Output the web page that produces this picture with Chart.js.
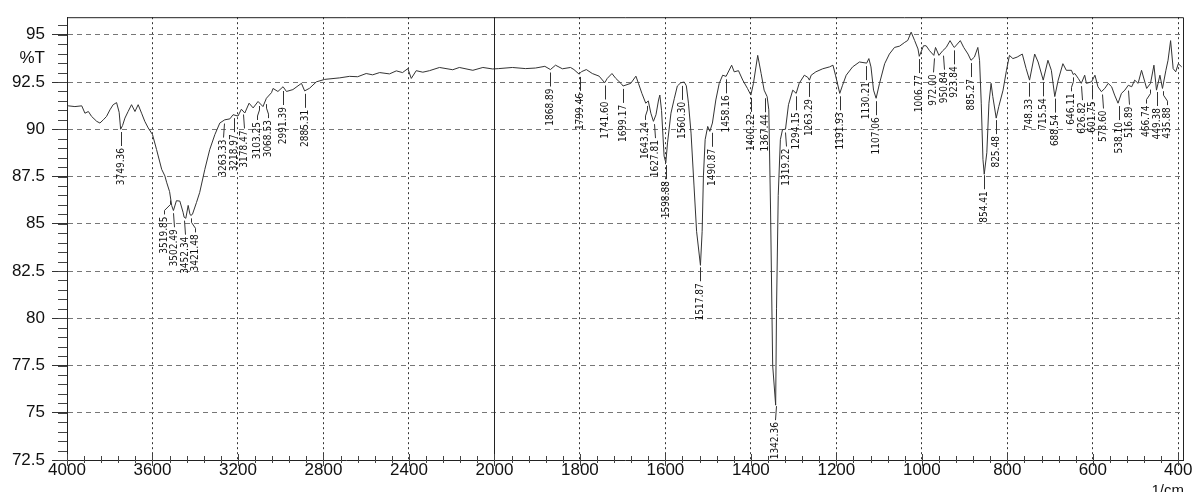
<!DOCTYPE html>
<html lang="en">
<head>
<meta charset="UTF-8">
<title>IR Spectrum</title>
<script src="https://cdn.jsdelivr.net/npm/chart.js"></script>
<style>
    body, html {
        margin: 0;
        padding: 0;
        background: #fff;
        overflow: hidden;
    }
    canvas { display: block; }
</style>
</head>
<body>
<canvas id="irChart" width="1195" height="492"></canvas>
<script>
// wavenumber (1/cm) and %T
const wavenumbers = [
    4000, 3994, 3963, 3931, 3916, 3900, 3885, 3861, 3846, 3830, 3815, 3799, 3784, 3768, 3756, 3749, 3740, 3729, 3714, 3698,
    3682, 3667, 3651, 3636, 3620, 3600, 3581, 3557, 3542, 3534, 3520, 3510, 3502, 3488, 3472, 3457, 3452, 3444, 3433, 3425,
    3421, 3413, 3394, 3379, 3355, 3332, 3308, 3285, 3262, 3238, 3223, 3200, 3184, 3168, 3148, 3129, 3106, 3083, 3067, 3043,
    3036, 3013, 2989, 2973, 2943, 2903, 2888, 2865, 2833, 2794, 2724, 2678, 2640, 2600, 2570, 2537, 2491, 2459, 2430, 2405,
    2389, 2366, 2335, 2304, 2257, 2195, 2164, 2101, 2054, 2008,
    1990, 1958, 1927, 1904, 1882, 1869, 1857, 1841, 1822, 1814, 1802, 1796, 1785, 1771, 1755, 1742, 1736, 1725, 1716, 1704,
    1699, 1681, 1669, 1663, 1655, 1646, 1640, 1634, 1628, 1622, 1616, 1613, 1609, 1603, 1599, 1595, 1587, 1579, 1572, 1564,
    1556, 1551, 1546, 1540, 1533, 1527, 1518, 1514, 1511, 1507, 1501, 1496, 1490, 1482, 1474, 1466, 1458, 1445, 1439, 1429,
    1419, 1408, 1400, 1394, 1384, 1376, 1369, 1362, 1358, 1354, 1349, 1342, 1340, 1336, 1331, 1326, 1319, 1312, 1302, 1294,
    1287, 1275, 1267, 1263, 1259, 1248, 1232, 1216, 1208, 1202, 1192, 1186, 1177, 1162, 1146, 1129, 1124, 1119, 1113, 1107,
    1099, 1087, 1076, 1064, 1052, 1040, 1033, 1025, 1017, 1009, 1006, 996, 990, 982, 972, 968, 960, 951, 943, 934,
    927, 924, 910, 902, 892, 885, 877, 869, 865, 861, 857, 854, 848, 843, 838, 834, 826, 820, 810, 802,
    795, 787, 777, 765, 756, 748, 736, 728, 716, 705, 697, 689, 681, 670, 662, 650, 646, 642, 634, 627,
    619, 615, 603, 595, 588, 580, 572, 564, 556, 549, 541, 533, 525, 517, 509, 502, 494, 486, 474, 465,
    457, 451, 443, 437, 429, 424, 418, 412, 406, 400, 392
];
const transmittance = [
    91.2, 91.24, 91.2, 91.24, 90.85, 90.94, 90.68, 90.42, 90.33, 90.5, 90.68, 91.03, 91.3, 91.41, 90.9, 90.0, 90.2, 90.59, 90.94, 91.3,
    90.94, 91.3, 90.85, 90.42, 90.07, 89.72, 88.93, 87.88, 87.53, 87.2, 86.7, 85.96, 85.7, 86.22, 86.2, 85.61, 85.35, 85.29, 85.97, 85.52,
    85.44, 85.5, 86.13, 86.66, 87.88, 88.93, 89.72, 90.33, 90.5, 90.55, 90.77, 90.7, 91.06, 90.86, 91.38, 91.13, 91.47, 91.2, 91.64, 91.94,
    92.16, 92.0, 92.25, 92.0, 92.1, 92.43, 92.03, 92.17, 92.51, 92.64, 92.72, 92.8, 92.78, 92.95, 92.88, 93.0, 92.93, 93.09, 93.0, 93.21,
    92.69, 93.1, 93.02, 93.1, 93.27, 93.15, 93.27, 93.12, 93.27, 93.19,
    93.21, 93.27, 93.21, 93.24, 93.33, 93.16, 93.39, 93.2, 93.27, 93.16, 92.92, 93.05, 93.16, 92.95, 92.81, 92.46, 92.69, 92.95, 92.69, 92.43,
    92.29, 92.43, 92.81, 92.43, 91.9, 91.38, 91.5, 90.85, 90.42, 90.77, 91.55, 91.81, 91.0, 88.58, 88.23, 89.28, 90.85, 91.64, 92.29, 92.46,
    92.5, 92.3, 91.38, 89.8, 87.0, 84.6, 82.8, 84.6, 87.53, 89.45, 90.15, 89.89, 90.33, 91.55, 92.43, 92.86, 92.8, 93.39, 93.04, 93.1,
    92.6, 92.16, 91.81, 92.43, 93.91, 92.95, 92.07, 91.73, 91.03, 85.78, 77.5, 75.4, 80.5, 86.5, 89.45, 89.98, 90.0, 91.3, 92.07, 91.9,
    92.43, 92.86, 92.75, 92.6, 92.86, 93.04, 93.2, 93.3, 93.39, 92.86, 91.9, 92.3, 92.86, 93.3, 93.56, 93.5, 93.74, 93.3, 92.07, 91.64,
    92.43, 93.47, 93.98, 94.33, 94.4, 94.6, 94.7, 95.14, 94.7, 94.25, 93.86, 94.42, 94.42, 94.16, 93.91, 94.33, 93.91, 94.16, 94.33, 94.69,
    94.42, 94.33, 94.69, 94.33, 93.98, 93.65, 93.82, 94.33, 93.65, 91.38, 88.4, 87.62, 88.76, 91.38, 92.43, 91.73, 90.59, 91.2, 92.07, 93.12,
    93.91, 93.74, 93.82, 93.98, 93.21, 92.6, 93.98, 93.56, 92.6, 93.65, 93.12, 91.73, 92.6, 93.47, 93.12, 93.12, 92.9, 92.95, 92.69, 92.43,
    92.86, 92.43, 92.51, 92.86, 92.25, 91.99, 92.16, 92.43, 92.25, 91.81, 91.38, 91.9, 92.07, 92.33, 92.25, 92.6, 92.43, 93.12, 92.16, 92.43,
    93.39, 92.07, 92.86, 92.16, 93.12, 93.65, 94.69, 93.21, 93.04, 93.47, 93.3
];
const peakLabels = [
    3749.36, 3519.85, 3502.49, 3452.34, 3421.48, 3263.33, 3218.97, 3178.47, 3103.25, 3068.53, 2991.39, 2885.31,
    1868.89, 1799.46, 1741.60, 1699.17, 1643.24, 1627.81, 1598.88, 1560.30, 1517.87, 1490.87, 1458.16, 1400.22,
    1367.44, 1342.36, 1319.22, 1294.15, 1263.29, 1191.93, 1130.21, 1107.06, 1006.77, 972.00, 950.84, 923.84,
    885.27, 854.41, 825.48, 748.33, 715.54, 688.54, 646.11, 626.82, 601.75, 578.60, 538.10, 516.89, 466.74,
    449.38, 435.88
];
const xTickLabels = [4000, 3600, 3200, 2800, 2400, 2000, 1800, 1600, 1400, 1200, 1000, 800, 600, 400];
const yTickLabels = [72.5, 75, 77.5, 80, 82.5, 85, 87.5, 90, 92.5, 95];

// the recorder uses half scale above 2000 1/cm
function toAxis(wn) { return wn >= 2000 ? (4000 - wn) / 2 : 3000 - wn; }
function fromAxis(u) { return u <= 1000 ? 4000 - 2 * u : 3000 - u; }

function valueAt(wn) {
    for (let i = 0; i < wavenumbers.length - 1; i++) {
        const a = wavenumbers[i], b = wavenumbers[i + 1];
        if (wn <= a && wn >= b) {
            return transmittance[i] + (transmittance[i + 1] - transmittance[i]) * (a - wn) / (a - b);
        }
    }
    return transmittance[transmittance.length - 1];
}

// push crowded labels apart, keeping each group centred on its peaks
function spreadLabels(xs, gap) {
    let groups = xs.map(x => ({ start: x, sum: x, n: 1 }));
    let merged = true;
    while (merged) {
        merged = false;
        for (let i = 0; i < groups.length - 1; i++) {
            const g = groups[i], h = groups[i + 1];
            if (g.start + (g.n - 1) * gap + gap > h.start) {
                const sum = g.sum + h.sum, n = g.n + h.n;
                const centre = sum / n;
                groups.splice(i, 2, { start: centre - (n - 1) * gap / 2, sum, n });
                merged = true;
                break;
            }
        }
    }
    const out = [];
    groups.forEach(g => { for (let k = 0; k < g.n; k++) out.push(g.start + k * gap); });
    return out;
}

const points = wavenumbers.map((wn, i) => ({ x: toAxis(wn), y: transmittance[i] }));
const AXIS_FONT = '"Liberation Sans", Arial, sans-serif';
const NARROW_FONT = '"Liberation Sans Narrow", "DejaVu Sans Condensed", sans-serif';

const framePlugin = {
    id: 'frame',
    afterDraw(chart) {
        const { ctx, chartArea: a, scales: { x, y } } = chart;
        ctx.save();
        ctx.strokeStyle = '#222';
        ctx.lineWidth = 1;
        // top / right border and the 2000 scale break
        ctx.beginPath();
        ctx.moveTo(a.left, a.top + 0.5); ctx.lineTo(a.right + 0.5, a.top + 0.5); ctx.lineTo(a.right + 0.5, a.bottom);
        const bx = Math.round(x.getPixelForValue(1000)) + 0.5;
        ctx.moveTo(bx, a.top); ctx.lineTo(bx, a.bottom);
        ctx.stroke();

        // minor ticks
        ctx.strokeStyle = '#444';
        ctx.beginPath();
        for (let u = 0; u <= 2600; u += 40) {
            const px = Math.round(x.getPixelForValue(u)) + 0.5;
            const major = u % 200 === 0;
            ctx.moveTo(px, a.bottom - (major ? 6 : 4));
            ctx.lineTo(px, a.bottom + (major ? 6 : 3));
        }
        for (let v = 72.5; v <= 95.6; v += 0.5) {
            const py = Math.round(y.getPixelForValue(v)) + 0.5;
            ctx.moveTo(a.left - 9, py); ctx.lineTo(a.left, py);
        }
        ctx.stroke();

        ctx.fillStyle = '#111';
        ctx.font = '17px ' + AXIS_FONT;
        ctx.textAlign = 'right';
        ctx.textBaseline = 'middle';
        ctx.fillText('%T', 45, y.getPixelForValue(93.75));
        ctx.font = '15px ' + AXIS_FONT;
        ctx.textBaseline = 'top';
        ctx.fillText('1/cm', 1184, 483);
        ctx.restore();
    }
};

const peakPlugin = {
    id: 'peaks',
    afterDatasetsDraw(chart) {
        const { ctx, scales: { x, y } } = chart;
        const marks = peakLabels.map(wn => {
            let t = Infinity;
            for (let d = -4; d <= 4; d++) t = Math.min(t, valueAt(wn + d));
            return { wn, px: x.getPixelForValue(toAxis(wn)), py: y.getPixelForValue(t) };
        });
        const placed = spreadLabels(marks.map(m => m.px), 10.5);

        ctx.save();
        ctx.font = '10px ' + NARROW_FONT;
        ctx.fillStyle = '#111';
        ctx.strokeStyle = '#333';
        ctx.lineWidth = 1;
        marks.forEach((m, i) => {
            const px = Math.round(m.px) + 0.5;
            const lx = Math.round(placed[i]) + 0.5;
            const moved = Math.abs(lx - px) > 1;
            ctx.beginPath();
            ctx.moveTo(px, m.py + 3);
            if (moved) {
                ctx.lineTo(px, m.py + 7);
                ctx.lineTo(lx, m.py + 13);
            }
            ctx.lineTo(lx, m.py + 17);
            ctx.stroke();
            ctx.save();
            ctx.translate(lx, m.py + 19);
            ctx.rotate(-Math.PI / 2);
            ctx.textAlign = 'right';
            ctx.textBaseline = 'middle';
            ctx.fillText(m.wn.toFixed(2), 0, 0);
            ctx.restore();
        });
        ctx.restore();
    }
};

new Chart(document.getElementById('irChart').getContext('2d'), {
    type: 'scatter',
    data: {
        datasets: [{
            data: points,
            showLine: true,
            borderColor: '#333',
            borderWidth: 1,
            pointRadius: 0,
            tension: 0
        }]
    },
    options: {
        responsive: false,
        animation: false,
        layout: { padding: { left: 0, right: 12, top: 13, bottom: 0 } },
        plugins: { legend: { display: false }, tooltip: { enabled: false } },
        scales: {
            x: {
                type: 'linear',
                min: 0,
                max: 2611,
                afterBuildTicks: s => { s.ticks = xTickLabels.map(v => ({ value: toAxis(v) })); },
                afterFit: s => { s.height = 32; },
                ticks: {
                    callback: v => String(fromAxis(v)),
                    font: { size: 17, family: AXIS_FONT },
                    color: '#111',
                    padding: 0,
                    maxRotation: 0,
                    autoSkip: false
                },
                grid: { color: '#333', drawTicks: false },
                border: { color: '#222', dash: [2, 3] }
            },
            y: {
                min: 72.5,
                max: 95.93,
                afterBuildTicks: s => { s.ticks = yTickLabels.map(v => ({ value: v })); },
                afterFit: s => { s.width = 67; },
                ticks: {
                    callback: v => String(v),
                    font: { size: 17, family: AXIS_FONT },
                    color: '#111',
                    padding: 7
                },
                grid: { color: '#777', tickLength: 15, tickColor: '#333' },
                border: { color: '#222', dash: [5, 4] }
            }
        }
    },
    plugins: [framePlugin, peakPlugin]
});
</script>
</body>
</html>
